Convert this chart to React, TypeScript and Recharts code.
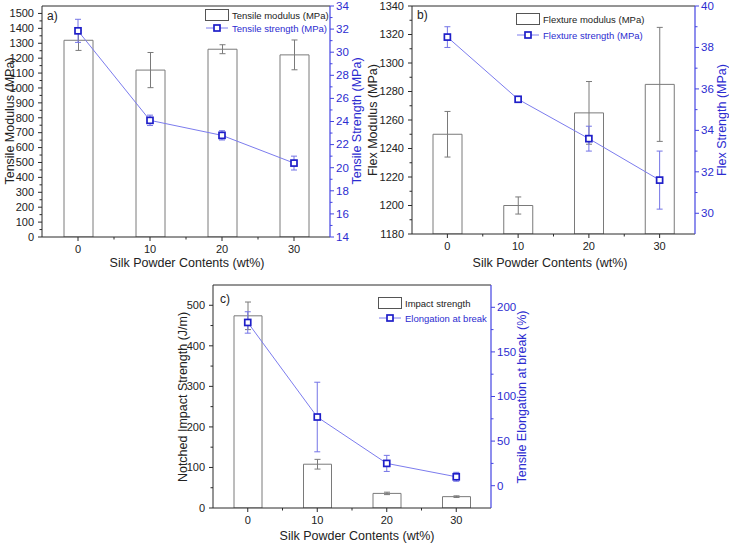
import React from 'react';
import { ComposedChart, Bar, Line, XAxis, YAxis, ErrorBar, ReferenceLine } from 'recharts';

// ---------- data ----------
const contents = [0, 10, 20, 30];

const tensileModulus = [1320, 1120, 1260, 1222];
const tensileModulusErr = [68, 118, 30, 100];
const tensileStrength = [31.85, 24.1, 22.8, 20.4];
const tensileStrengthErr = [1.0, 0.45, 0.4, 0.6];

const flexModulus = [1250, 1200, 1265, 1285];
const flexModulusErr = [16, 6, 22, 40];
const flexStrength = [38.5, 35.5, 33.6, 31.6];
const flexStrengthErr = [0.5, 0.1, 0.6, 1.4];

const impactStrength = [474, 108, 36, 28];
const impactStrengthErr = [34, 12, 3, 2];
const elongation = [183, 77, 25, 10];
const elongationErr = [12, 39, 9, 5];

// ---------- ticks ----------
const xMajor = [0, 10, 20, 30];
const xMinor = [5, 15, 25];

const aLeftMajor = [0, 100, 200, 300, 400, 500, 600, 700, 800, 900, 1000, 1100, 1200, 1300, 1400, 1500];
const aLeftMinor = [50, 150, 250, 350, 450, 550, 650, 750, 850, 950, 1050, 1150, 1250, 1350, 1450];
const aRightMajor = [14, 16, 18, 20, 22, 24, 26, 28, 30, 32, 34];
const aRightMinor = [15, 17, 19, 21, 23, 25, 27, 29, 31, 33];

const bLeftMajor = [1180, 1200, 1220, 1240, 1260, 1280, 1300, 1320, 1340];
const bLeftMinor = [1190, 1210, 1230, 1250, 1270, 1290, 1310, 1330];
const bRightMajor = [30, 32, 34, 36, 38, 40];
const bRightMinor = [31, 33, 35, 37, 39];

const cLeftMajor = [0, 100, 200, 300, 400, 500];
const cLeftMinor = [50, 150, 250, 350, 450];
const cRightMajor = [0, 50, 100, 150, 200];
const cRightMinor = [25, 75, 125, 175];

// ---------- styles ----------
const FONT = "'Liberation Sans', Arial, Helvetica, sans-serif";
const TICK_FONT = "'Liberation Sans Narrow', 'Arial Narrow', 'Liberation Sans', Arial, sans-serif";
const AXIS = '#2a2a2a';
const BLUE_AXIS = '#4444e2';
const BLUE_TEXT = '#2c2cd0';
const LINE_BLUE = '#7c7cee';
const ERR_BLUE = '#7474e6';
const MARK_BLUE = '#1e1ec8';
const BAR_GRAY = '#7a7a7a';
const TXT = '#222';

type Row = { x: number; bar: number; barErr: number; val: number; valErr: number };

function rows(bar: number[], barErr: number[], val: number[], valErr: number[]): Row[] {
  return contents.map((x, i) => ({ x, bar: bar[i], barErr: barErr[i], val: val[i], valErr: valErr[i] }));
}

function makeTick(side: 'left' | 'right' | 'bottom', majors: number[], color: string, textColor: string) {
  return (props: any) => {
    const { x, y, payload } = props;
    const v = Number(payload.value);
    const major = majors.indexOf(v) >= 0;
    const len = major ? 4 : 2.5;
    if (side === 'left') {
      return (
        <g>
          <line x1={x} x2={x - len} y1={y} y2={y} stroke={color} strokeWidth={1} />
          {major && (
            <text x={x - 8} y={y} dy={3.8} textAnchor="end" fill={textColor} fontSize={11} fontFamily={TICK_FONT}>
              {v}
            </text>
          )}
        </g>
      );
    }
    if (side === 'right') {
      return (
        <g>
          <line x1={x} x2={x + len} y1={y} y2={y} stroke={color} strokeWidth={1} />
          {major && (
            <text x={x + 6} y={y} dy={3.8} textAnchor="start" fill={textColor} fontSize={11.5} fontFamily={TICK_FONT}>
              {v}
            </text>
          )}
        </g>
      );
    }
    return (
      <g>
        <line x1={x} x2={x} y1={y} y2={y + len} stroke={color} strokeWidth={1} />
        {major && (
          <text x={x} y={y + 15.5} textAnchor="middle" fill={textColor} fontSize={11} fontFamily={TICK_FONT}>
            {v}
          </text>
        )}
      </g>
    );
  };
}

const SquareDot = (props: any) => {
  const { cx, cy, index } = props;
  if (cx == null || cy == null) return <g key={`d${index}`} />;
  return (
    <rect key={`d${index}`} x={cx - 3} y={cy - 3} width={6} height={6} fill="#fff" stroke={MARK_BLUE} strokeWidth={1.7} />
  );
};

type PanelProps = {
  left: number;
  top: number;
  width: number;
  height: number;
  margin: { top: number; right: number; bottom: number; left: number };
  leftWidth: number;
  data: Row[];
  leftDomain: [number, number];
  rightDomain: [number, number];
  leftMajor: number[];
  leftMinor: number[];
  rightMajor: number[];
  rightMinor: number[];
  barSize: number;
  barName: string;
  lineName: string;
};

function Panel(p: PanelProps) {
  return (
    <div style={{ position: 'absolute', left: p.left, top: p.top }}>
      <ComposedChart width={p.width} height={p.height} data={p.data} margin={p.margin}>
        <XAxis
          dataKey="x"
          type="number"
          domain={[-5, 35]}
          allowDataOverflow
          ticks={[...xMajor, ...xMinor].sort((a, b) => a - b)}
          interval={0}
          tickSize={0}
          tickMargin={0}
          tickLine={false}
          height={30}
          axisLine={{ stroke: AXIS, strokeWidth: 1 }}
          tick={makeTick('bottom', xMajor, AXIS, TXT)}
        />
        <YAxis
          yAxisId="left"
          orientation="left"
          domain={p.leftDomain}
          allowDataOverflow
          ticks={[...p.leftMajor, ...p.leftMinor].sort((a, b) => a - b)}
          interval={0}
          tickSize={0}
          tickMargin={0}
          tickLine={false}
          width={p.leftWidth}
          axisLine={{ stroke: AXIS, strokeWidth: 1 }}
          tick={makeTick('left', p.leftMajor, AXIS, TXT)}
        />
        <YAxis
          yAxisId="right"
          orientation="right"
          domain={p.rightDomain}
          allowDataOverflow
          ticks={[...p.rightMajor, ...p.rightMinor].sort((a, b) => a - b)}
          interval={0}
          tickSize={0}
          tickMargin={0}
          tickLine={false}
          width={30}
          axisLine={{ stroke: BLUE_AXIS, strokeWidth: 1.2 }}
          tick={makeTick('right', p.rightMajor, BLUE_AXIS, BLUE_TEXT)}
        />
        <ReferenceLine yAxisId="left" y={p.leftDomain[1]} stroke={AXIS} strokeWidth={1} />
        <Bar
          yAxisId="left"
          dataKey="bar"
          name={p.barName}
          barSize={p.barSize}
          fill="#fff"
          stroke={BAR_GRAY}
          strokeWidth={1}
          isAnimationActive={false}
        >
          <ErrorBar dataKey="barErr" direction="y" width={3} stroke={BAR_GRAY} strokeWidth={1} />
        </Bar>
        <Line
          yAxisId="right"
          dataKey="val"
          name={p.lineName}
          type="linear"
          stroke={LINE_BLUE}
          strokeWidth={1}
          dot={SquareDot}
          activeDot={false}
          isAnimationActive={false}
        >
          <ErrorBar dataKey="valErr" direction="y" width={3} stroke={ERR_BLUE} strokeWidth={1} />
        </Line>
      </ComposedChart>
    </div>
  );
}

const titleStyle: React.CSSProperties = {
  position: 'absolute',
  whiteSpace: 'nowrap',
  fontFamily: FONT,
  fontSize: 12.5,
  lineHeight: '14px',
};

function VTitle({ x, y, text, color }: { x: number; y: number; text: string; color: string }) {
  return (
    <div style={{ ...titleStyle, left: x, top: y, color, transform: 'translate(-50%, -50%) rotate(-90deg)' }}>{text}</div>
  );
}

function HTitle({ x, y, text }: { x: number; y: number; text: string }) {
  return <div style={{ ...titleStyle, left: x, top: y, color: TXT, transform: 'translate(-50%, -50%)' }}>{text}</div>;
}

function PanelTag({ x, y, text }: { x: number; y: number; text: string }) {
  return (
    <div style={{ position: 'absolute', left: x, top: y, fontFamily: FONT, fontSize: 12, color: TXT, transform: 'translateY(-50%)', lineHeight: '14px' }}>
      {text}
    </div>
  );
}

function LegendBox({ x, y, barName, lineName, gap }: { x: number; y: number; barName: string; lineName: string; gap: number }) {
  const textStyle: React.CSSProperties = { position: 'absolute', whiteSpace: 'nowrap', fontFamily: FONT, fontSize: 9.5, lineHeight: '11px', transform: 'translateY(-50%)' };
  return (
    <div style={{ position: 'absolute', left: x, top: y }}>
      <svg style={{ position: 'absolute', left: 0, top: -6 }} width={26} height={gap + 12}>
        <rect x={0.5} y={0.5} width={23} height={11} fill="#fff" stroke="#555" strokeWidth={1} />
        <line x1={1} x2={23} y1={6 + gap} y2={6 + gap} stroke={LINE_BLUE} strokeWidth={1} />
        <rect x={9} y={3 + gap} width={6} height={6} fill="#fff" stroke={MARK_BLUE} strokeWidth={1.7} />
      </svg>
      <div style={{ ...textStyle, left: 27, top: 0, color: TXT }}>{barName}</div>
      <div style={{ ...textStyle, left: 27, top: gap, color: BLUE_TEXT }}>{lineName}</div>
    </div>
  );
}

export default function App() {
  const dataA = rows(tensileModulus, tensileModulusErr, tensileStrength, tensileStrengthErr);
  const dataB = rows(flexModulus, flexModulusErr, flexStrength, flexStrengthErr);
  const dataC = rows(impactStrength, impactStrengthErr, elongation, elongationErr);
  const xTitle = 'Silk Powder Contents (wt%)';
  return (
    <div style={{ position: 'absolute', left: 0, top: 0, width: 729, height: 544, background: '#fff', overflow: 'hidden' }}>
      <Panel
        left={0}
        top={0}
        width={370}
        height={275}
        margin={{ top: 6, right: 10, bottom: 8, left: 0 }}
        leftWidth={42}
        data={dataA}
        leftDomain={[0, 1550]}
        rightDomain={[14, 34]}
        leftMajor={aLeftMajor}
        leftMinor={aLeftMinor}
        rightMajor={aRightMajor}
        rightMinor={aRightMinor}
        barSize={29}
        barName="Tensile modulus (MPa)"
        lineName="Tensile strength (MPa)"
      />
      <Panel
        left={360}
        top={0}
        width={369}
        height={275}
        margin={{ top: 6, right: 4, bottom: 11, left: 0 }}
        leftWidth={52}
        data={dataB}
        leftDomain={[1180, 1340]}
        rightDomain={[29, 40]}
        leftMajor={bLeftMajor}
        leftMinor={bLeftMinor}
        rightMajor={bRightMajor}
        rightMinor={bRightMinor}
        barSize={29}
        barName="Flexture modulus (MPa)"
        lineName="Flexture strength (MPa)"
      />
      <Panel
        left={170}
        top={280}
        width={380}
        height={264}
        margin={{ top: 5, right: 29, bottom: 6, left: 0 }}
        leftWidth={43}
        data={dataC}
        leftDomain={[0, 550]}
        rightDomain={[-25, 225]}
        leftMajor={cLeftMajor}
        leftMinor={cLeftMinor}
        rightMajor={cRightMajor}
        rightMinor={cRightMinor}
        barSize={28}
        barName="Impact strength"
        lineName="Elongation at break"
      />

      <PanelTag x={47} y={16} text="a)" />
      <PanelTag x={417} y={15} text="b)" />
      <PanelTag x={220} y={299} text="c)" />

      <LegendBox x={205} y={15} gap={13} barName="Tensile modulus (MPa)" lineName="Tensile strength (MPa)" />
      <LegendBox x={516} y={19} gap={16} barName="Flexture modulus (MPa)" lineName="Flexture strength (MPa)" />
      <LegendBox x={378} y={303} gap={15} barName="Impact strength" lineName="Elongation at break" />

      <VTitle x={10} y={121} text="Tensile Modulus (MPa)" color={TXT} />
      <VTitle x={357} y={121} text="Tensile Strength (MPa)" color={BLUE_TEXT} />
      <HTitle x={187} y={263} text={xTitle} />

      <VTitle x={373} y={120} text="Flex Modulus (MPa)" color={TXT} />
      <VTitle x={722} y={120} text="Flex Strength (MPa)" color={BLUE_TEXT} />
      <HTitle x={550} y={263} text={xTitle} />

      <VTitle x={183} y={397} text="Notched Impact Strength (J/m)" color={TXT} />
      <VTitle x={522} y={397} text="Tensile Elongation at break (%)" color={BLUE_TEXT} />
      <HTitle x={357} y={536} text={xTitle} />
    </div>
  );
}
